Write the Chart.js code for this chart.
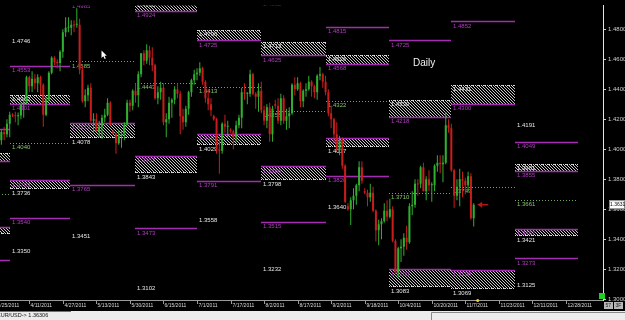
<!DOCTYPE html>
<html><head><meta charset="utf-8">
<script src="https://cdn.jsdelivr.net/npm/chart.js@4/dist/chart.umd.min.js"></script>
<style>html,body{margin:0;padding:0;background:#000;overflow:hidden}canvas{display:block}</style>
</head><body>
<canvas id="c" width="625" height="320"></canvas>
<script>
// ---- Daily EUR/USD candles (bar index order) ----
const opens = [
1.4060,1.4115,1.4100,1.4170,1.4230,1.4225,1.4220,1.4225,1.4300,1.4310,
1.4480,1.4420,1.4470,1.4440,1.4480,1.4430,1.4230,1.4330,1.4510,1.4610,
1.4580,1.4575,1.4650,1.4780,1.4810,1.4810,1.4830,1.4830,1.4830,1.4530,
1.4320,1.4360,1.4410,1.4190,1.4200,1.4120,1.4150,1.4210,1.4230,1.4310,
1.4120,1.4105,1.4040,1.4090,1.4100,1.4160,1.4310,1.4290,1.4390,1.4360,
1.4500,1.4640,1.4590,1.4660,1.4610,1.4560,1.4340,1.4380,1.4410,1.4180,
1.4200,1.4310,1.4330,1.4400,1.4370,1.4220,1.4180,1.4270,1.4380,1.4460,
1.4500,1.4510,1.4540,1.4450,1.4340,1.4300,1.4220,1.4200,1.4000,1.3990,
1.4170,1.4150,1.4130,1.4120,1.4080,1.4160,1.4210,1.4380,1.4370,1.4370,
1.4500,1.4370,1.4350,1.4390,1.4260,1.4190,1.4280,1.4100,1.4300,1.4290,
1.4190,1.4340,1.4190,1.4220,1.4240,1.4430,1.4400,1.4440,1.4320,1.4390,
1.4400,1.4450,1.4420,1.4380,1.4490,1.4500,1.4450,1.4380,1.4240,1.4200,
1.4100,1.4000,1.4060,1.3890,1.3620,1.3600,1.3660,1.3690,1.3760,1.3880,
1.3720,1.3710,1.3680,1.3710,1.3590,1.3460,1.3500,1.3520,1.3590,1.3550,
1.3600,1.3390,1.3180,1.3340,1.3350,1.3410,1.3380,1.3620,1.3630,1.3770,
1.3770,1.3880,1.3720,1.3800,1.3760,1.3760,1.3890,1.3910,1.3900,1.3910,
1.4160,1.4140,1.3860,1.3690,1.3750,1.3800,1.3790,1.3760,1.3820,1.3540];
const highs = [
1.4130,1.4150,1.4200,1.4250,1.4240,1.4250,1.4245,1.4310,1.4340,1.4490,
1.4490,1.4520,1.4500,1.4500,1.4490,1.4440,1.4350,1.4520,1.4620,1.4620,
1.4600,1.4660,1.4800,1.4880,1.4880,1.4860,1.4860,1.4940,1.4870,1.4560,
1.4400,1.4430,1.4440,1.4240,1.4240,1.4190,1.4230,1.4270,1.4340,1.4320,
1.4130,1.4110,1.4130,1.4120,1.4180,1.4330,1.4330,1.4400,1.4440,1.4520,
1.4640,1.4660,1.4700,1.4690,1.4680,1.4570,1.4420,1.4450,1.4440,1.4240,
1.4350,1.4340,1.4420,1.4440,1.4390,1.4270,1.4290,1.4390,1.4470,1.4530,
1.4540,1.4580,1.4550,1.4460,1.4400,1.4340,1.4230,1.4210,1.4080,1.4180,
1.4230,1.4190,1.4140,1.4130,1.4190,1.4230,1.4410,1.4440,1.4380,1.4530,
1.4510,1.4380,1.4440,1.4450,1.4290,1.4300,1.4310,1.4290,1.4330,1.4340,
1.4370,1.4360,1.4270,1.4280,1.4440,1.4480,1.4480,1.4450,1.4400,1.4440,
1.4490,1.4460,1.4430,1.4500,1.4548,1.4510,1.4490,1.4400,1.4290,1.4210,
1.4180,1.4090,1.4080,1.3900,1.3640,1.3680,1.3740,1.3770,1.3920,1.3920,
1.3740,1.3730,1.3770,1.3750,1.3600,1.3530,1.3540,1.3640,1.3660,1.3670,
1.3620,1.3400,1.3350,1.3400,1.3440,1.3490,1.3640,1.3720,1.3800,1.3800,
1.3890,1.3910,1.3820,1.3860,1.3780,1.3900,1.3960,1.3960,1.3960,1.4247,
1.4200,1.4170,1.3870,1.3800,1.3870,1.3850,1.3810,1.3850,1.3840,1.3640];
const lows = [
1.4030,1.4060,1.4080,1.4080,1.4215,1.4180,1.4160,1.4200,1.4210,1.4300,
1.4380,1.4380,1.4400,1.4380,1.4360,1.4150,1.4220,1.4320,1.4500,1.4560,
1.4540,1.4520,1.4610,1.4750,1.4780,1.4760,1.4780,1.4810,1.4500,1.4310,
1.4280,1.4320,1.4180,1.4110,1.4120,1.4080,1.4070,1.4180,1.4220,1.4160,
1.4100,1.3970,1.4030,1.4010,1.4060,1.4160,1.4250,1.4260,1.4310,1.4280,
1.4480,1.4560,1.4570,1.4560,1.4520,1.4330,1.4300,1.4330,1.4160,1.4080,
1.4170,1.4210,1.4300,1.4340,1.4100,1.4130,1.4150,1.4230,1.4350,1.4430,
1.4460,1.4490,1.4430,1.4310,1.4260,1.4220,1.4190,1.3970,1.3837,1.3970,
1.4110,1.4080,1.4110,1.4000,1.4050,1.4140,1.4140,1.4330,1.4300,1.4350,
1.4360,1.4270,1.4250,1.4240,1.4160,1.4140,1.4050,1.4050,1.4270,1.4170,
1.4160,1.4170,1.4130,1.4140,1.4230,1.4360,1.4390,1.4280,1.4280,1.4350,
1.4390,1.4350,1.4340,1.4330,1.4460,1.4410,1.4360,1.4220,1.4140,1.4050,
1.3990,1.3960,1.3870,1.3640,1.3590,1.3495,1.3600,1.3630,1.3720,1.3770,
1.3700,1.3620,1.3650,1.3580,1.3385,1.3360,1.3400,1.3510,1.3520,1.3540,
1.3380,1.3170,1.3146,1.3250,1.3290,1.3330,1.3370,1.3560,1.3610,1.3690,
1.3740,1.3720,1.3660,1.3720,1.3650,1.3720,1.3850,1.3840,1.3780,1.3900,
1.4110,1.3850,1.3610,1.3660,1.3620,1.3680,1.3700,1.3720,1.3530,1.3485];
const closes = [
1.4115,1.4100,1.4170,1.4230,1.4225,1.4220,1.4225,1.4300,1.4310,1.4480,
1.4420,1.4470,1.4440,1.4480,1.4430,1.4230,1.4330,1.4510,1.4610,1.4580,
1.4575,1.4650,1.4780,1.4810,1.4815,1.4830,1.4825,1.4835,1.4530,1.4320,
1.4360,1.4410,1.4190,1.4200,1.4120,1.4150,1.4210,1.4230,1.4310,1.4160,
1.4105,1.4040,1.4090,1.4100,1.4160,1.4310,1.4290,1.4390,1.4360,1.4500,
1.4640,1.4590,1.4660,1.4610,1.4560,1.4340,1.4380,1.4410,1.4180,1.4200,
1.4310,1.4330,1.4400,1.4370,1.4220,1.4180,1.4270,1.4380,1.4460,1.4500,
1.4510,1.4540,1.4450,1.4340,1.4300,1.4260,1.4200,1.4000,1.3990,1.4170,
1.4150,1.4155,1.4120,1.4080,1.4160,1.4210,1.4380,1.4370,1.4372,1.4500,
1.4370,1.4350,1.4390,1.4260,1.4190,1.4280,1.4100,1.4270,1.4290,1.4190,
1.4340,1.4190,1.4220,1.4240,1.4430,1.4400,1.4440,1.4320,1.4390,1.4400,
1.4450,1.4420,1.4380,1.4490,1.4500,1.4450,1.4380,1.4240,1.4200,1.4100,
1.4000,1.4060,1.3890,1.3650,1.3600,1.3660,1.3690,1.3760,1.3880,1.3790,
1.3710,1.3680,1.3710,1.3590,1.3460,1.3500,1.3520,1.3590,1.3550,1.3600,
1.3390,1.3180,1.3340,1.3350,1.3410,1.3380,1.3620,1.3630,1.3770,1.3765,
1.3880,1.3720,1.3800,1.3760,1.3765,1.3890,1.3910,1.3900,1.3910,1.4160,
1.4140,1.3860,1.3690,1.3750,1.3800,1.3790,1.3760,1.3820,1.3540,1.3631];
const lastQuote = 1.36306;
const symbol = 'EUR/USD';

// ---- axes ----
const xTickIndex  = [-2, 10, 22, 34, 46, 58, 70, 82, 94, 106, 118, 130, 142, 154, 166, 178, 190, 202];
const xTickLabels = ['3/25/2011','4/11/2011','4/27/2011','5/13/2011','5/30/2011','6/15/2011','7/1/2011',
  '7/17/2011','8/2/2011','8/17/2011','9/2/2011','9/18/2011','10/4/2011','10/20/2011','11/7/2011',
  '11/23/2011','12/11/2011','12/28/2011'];
const yTicks = [1.30,1.32,1.34,1.36,1.38,1.40,1.42,1.44,1.46,1.48];
const xMin = -0.483, xMax = 215.26;
const yMin = 1.29961, yMax = 1.49569;

// ---- monthly levels (bar-index span of each month) ----
const periodStart = [-20, 3.2, 24.56, 47.8, 70.1, 93.0, 116.3, 138.8, 161.0, 183.8];
const periodEnd   = [3.2, 24.56, 47.8, 70.1, 93.0, 116.3, 138.8, 161.0, 183.8, 206.3];
const topLabel    = [null, 1.4746, null, null, null, null, null, null, null, 1.4191];
const resist      = [1.4133, 1.4553, null, null, null, 1.4992, 1.4815, 1.4725, 1.4852, 1.4049];
const upZoneLow   = [1.3924, 1.4301, 1.4985, 1.4924, 1.4725, 1.4625, 1.4568, 1.4218, 1.4300, 1.3855];
const upZoneHigh  = [1.3976, 1.4362, 1.5080, 1.4990, 1.4796, 1.4713, 1.4626, 1.4330, 1.4431, 1.3901];
const pivot       = [1.3705, 1.4040, 1.4585, 1.4443, 1.4413, 1.4258, 1.4322, 1.3710, 1.3749, 1.3661];
const lowZoneHigh = [1.3480, 1.3793, 1.4173, 1.3957, 1.4101, 1.3886, 1.4075, 1.3200, 1.3198, 1.3467];
const lowZoneLow  = [1.3434, 1.3736, 1.4078, 1.3843, 1.4029, 1.3798, 1.4017, 1.3083, 1.3069, 1.3421];
const support     = [1.3264, 1.3540, 1.3765, 1.3473, 1.3791, 1.3515, 1.3820, null, null, 1.3273];
const bottomLabel = [null, 1.3350, 1.3451, 1.3102, 1.3558, 1.3232, 1.3640, null, null, 1.3125];

const FONT = '"Liberation Sans", Arial, sans-serif';
const GREEN = '#30b030', RED = '#c81e1c';
const PURPLE = '#a42cb0', PURPLE_TXT = '#b23cc2';
const GREEN_LINE = '#6ea850', GREEN_TXT = '#86c46a', WHITE_TXT = '#e6e6e6';

let hatch = null;
function getHatch(ctx){
  if(!hatch){
    const t=document.createElement('canvas'); t.width=3; t.height=3;
    const c=t.getContext('2d'); c.fillStyle='#c8c8c8';
    for(let i=0;i<3;i++) c.fillRect(i,i,1,1);
    hatch=ctx.createPattern(t,'repeat');
  }
  return hatch;
}

const overlays = {
  id:'overlays',
  beforeDraw(chart){
    const {ctx,width,height}=chart;
    ctx.save(); ctx.fillStyle='#000'; ctx.fillRect(0,0,width,height); ctx.restore();
  },
  beforeDatasetsDraw(chart){
    const {ctx, chartArea:a, scales:{x,y}} = chart;
    const px=v=>x.getPixelForValue(v), py=v=>y.getPixelForValue(v), snap=v=>Math.round(v)+0.5;
    ctx.save();
    ctx.beginPath(); ctx.rect(a.left,a.top,a.right-a.left,a.bottom-a.top); ctx.clip();
    for(let k=0;k<periodStart.length;k++){
      const x1=Math.round(px(periodStart[k])), x2=Math.round(px(periodEnd[k]));
      [[upZoneLow[k],upZoneHigh[k],'top'],[lowZoneLow[k],lowZoneHigh[k],'bottom']].forEach(([lo,hi,edge])=>{
        if(lo==null||hi==null) return;
        const yt=Math.round(py(hi)), yb=Math.round(py(lo));
        ctx.fillStyle=getHatch(ctx); ctx.fillRect(x1,yt,x2-x1,yb-yt);
        ctx.strokeStyle='#dcdcdc'; ctx.lineWidth=1; ctx.setLineDash([1,1]);
        const ye= edge==='top'? yt+0.5 : yb-0.5;
        ctx.beginPath(); ctx.moveTo(x1,ye); ctx.lineTo(x2,ye); ctx.stroke();
        ctx.setLineDash([]);
      });
      [resist[k],upZoneLow[k],lowZoneHigh[k],support[k]].forEach(v=>{
        if(v==null) return;
        const yy=snap(py(v));
        ctx.strokeStyle=PURPLE; ctx.lineWidth=1.3;
        ctx.beginPath(); ctx.moveTo(x1,yy); ctx.lineTo(x2,yy); ctx.stroke();
      });
      if(pivot[k]!=null){
        const yy=snap(py(pivot[k]));
        ctx.strokeStyle=GREEN_LINE; ctx.lineWidth=1; ctx.setLineDash([1,2]);
        ctx.beginPath(); ctx.moveTo(x1,yy); ctx.lineTo(x2,yy); ctx.stroke();
        ctx.setLineDash([]);
      }
      ctx.font='6px '+FONT; ctx.textBaseline='top'; ctx.textAlign='left';
      const lab=(v,col)=>{ if(v==null) return; ctx.fillStyle=col; ctx.fillText(v.toFixed(4), x1+2, py(v)+1.5); };
      lab(topLabel[k],WHITE_TXT); lab(resist[k],PURPLE_TXT); lab(upZoneLow[k],PURPLE_TXT);
      lab(upZoneHigh[k],WHITE_TXT); lab(pivot[k],GREEN_TXT); lab(lowZoneHigh[k],PURPLE_TXT);
      lab(lowZoneLow[k],WHITE_TXT); lab(support[k],PURPLE_TXT); lab(bottomLabel[k],WHITE_TXT);
    }
    ctx.restore();
  },
  afterDraw(chart){
    const {ctx, chartArea:a, scales:{x,y}, width} = chart;
    ctx.save();
    // x axis
    ctx.strokeStyle='#9a9a9a'; ctx.lineWidth=1;
    ctx.beginPath(); ctx.moveTo(0,a.bottom+0.5); ctx.lineTo(a.right,a.bottom+0.5); ctx.stroke();
    ctx.font='5px '+FONT; ctx.fillStyle='#d8d8d8'; ctx.textBaseline='middle'; ctx.textAlign='left';
    xTickIndex.forEach((v,i)=>{
      const xx=Math.round(x.getPixelForValue(v))+0.5;
      ctx.beginPath(); ctx.moveTo(xx,a.bottom); ctx.lineTo(xx,a.bottom+4); ctx.stroke();
      ctx.fillText(xTickLabels[i], xx+1, a.bottom+5.5);
    });
    // current bar marker on time axis
    const lastI = closes.length-1;
    const lastX = x.getPixelForValue(lastI);
    ctx.fillStyle='#e8d040'; ctx.beginPath(); ctx.arc(lastX+4, a.bottom+0.5, 1.5, 0, Math.PI*2); ctx.fill();
    // green square & small boxes
    ctx.fillStyle='#20d020'; ctx.fillRect(a.right-4, a.bottom-7, 6, 6);
    ctx.fillStyle='#b8b8b8'; ctx.fillRect(a.right+1, a.bottom+2, 9, 7); ctx.fillRect(a.right+11, a.bottom+2, 9, 7);
    ctx.fillStyle='#222'; ctx.font='5px '+FONT;
    ctx.fillText('57', a.right+2.5, a.bottom+5.5); ctx.fillText('3F', a.right+12.5, a.bottom+5.5);
    // current price box
    const yy=y.getPixelForValue(closes[lastI]);
    ctx.fillStyle='#ffffff'; ctx.fillRect(a.right+6, yy-4.5, 16, 9);
    ctx.strokeStyle='#888'; ctx.strokeRect(a.right+6.5, yy-4, 15, 8);
    ctx.fillStyle='#000'; ctx.font='5px '+FONT; ctx.fillText(closes[lastI].toFixed(4), a.right+7, yy);
    // red arrow pointing at last bar
    const tip=lastX+3.5;
    ctx.strokeStyle='#b01818'; ctx.fillStyle='#b01818'; ctx.lineWidth=1.5;
    ctx.beginPath(); ctx.moveTo(tip+4,yy); ctx.lineTo(tip+11,yy); ctx.stroke();
    ctx.beginPath(); ctx.moveTo(tip,yy); ctx.lineTo(tip+5,yy-3); ctx.lineTo(tip+5,yy+3); ctx.closePath(); ctx.fill();
    // title
    ctx.fillStyle='#f2f2f2'; ctx.font='10px '+FONT; ctx.textBaseline='alphabetic';
    ctx.fillText('Daily', 413, 66);
    // mouse pointer
    ctx.save(); ctx.translate(101.5,50.5);
    ctx.beginPath(); ctx.moveTo(0,0); ctx.lineTo(0,7.5); ctx.lineTo(1.8,5.8); ctx.lineTo(3.2,8.5);
    ctx.lineTo(4.3,8); ctx.lineTo(3,5.3); ctx.lineTo(5.3,5.3); ctx.closePath();
    ctx.fillStyle='#fff'; ctx.fill(); ctx.restore();
    // status bar
    ctx.fillStyle='#ececec'; ctx.fillRect(0,311,width,9);
    ctx.strokeStyle='#707070'; ctx.lineWidth=1;
    ctx.beginPath(); ctx.moveTo(0,311.5); ctx.lineTo(71,311.5); ctx.stroke();
    ctx.strokeStyle='#8a8a8a';
    ctx.beginPath(); ctx.moveTo(431.5,320); ctx.lineTo(431.5,312.5); ctx.lineTo(width,312.5); ctx.stroke();
    ctx.fillStyle='#111'; ctx.font='5.5px '+FONT; ctx.textBaseline='middle';
    ctx.fillText(symbol+'-> '+lastQuote.toFixed(5), -3, 315.5);
    ctx.restore();
  }
};

const idx = opens.map((_,i)=>i);
const colors = idx.map(i=> closes[i]>=opens[i] ? GREEN : RED);
new Chart(document.getElementById('c'), {
  type:'bar',
  data:{datasets:[
    {data: idx.map(i=>({x:i, y:[lows[i],highs[i]]})), backgroundColor:colors, barThickness:1, grouped:false, borderWidth:0, inflateAmount:0},
    {data: idx.map(i=>({x:i, y:[opens[i],closes[i]]})), backgroundColor:colors, barThickness:2, grouped:false, borderWidth:0, minBarLength:1, inflateAmount:0}
  ]},
  options:{
    responsive:false, devicePixelRatio:1, animation:false, events:[],
    layout:{padding:{left:0,right:0,top:0,bottom:20}, autoPadding:false},
    plugins:{legend:{display:false}, tooltip:{enabled:false}},
    scales:{
      x:{type:'linear', display:false, min:xMin, max:xMax, offset:false, grid:{offset:false}},
      y:{type:'linear', position:'right', min:yMin, max:yMax,
         afterFit(s){ s.width=22; },
         afterBuildTicks(s){ s.ticks = yTicks.map(v=>({value:v})); },
         ticks:{font:{size:6, family:FONT}, color:'#cfcfcf', padding:2, autoSkip:false, callback:v=>Number(v).toFixed(4)},
         grid:{drawOnChartArea:false, tickLength:3, color:'#cfcfcf'},
         border:{color:'#e4e4e4'}}
    }
  },
  plugins:[overlays]
});
</script>
</body></html>
